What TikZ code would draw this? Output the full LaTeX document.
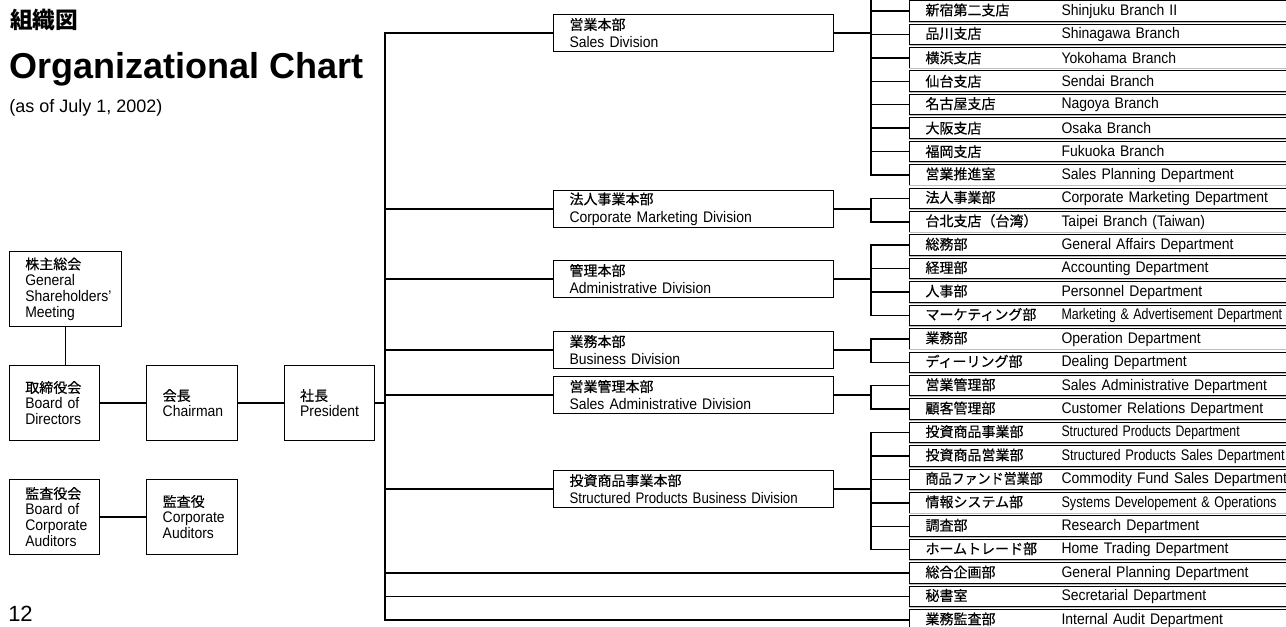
\documentclass[tikz,border=0pt]{standalone}
\usepackage{fontspec}
\usepackage{graphicx}
\setmainfont{Liberation Sans}[FakeStretch=0.91]
\newfontfamily\headfont{Liberation Sans}
\newfontfamily\jp{Noto Sans CJK JP}[FakeBold=0.5]
\newfontfamily\jphead{Noto Sans CJK JP}
\usetikzlibrary{positioning}
\usetikzlibrary{math}
\newcommand{\narrow}[2]{\scalebox{#1}[1]{#2}}
\tikzstyle{link} = [line width=1.1pt]
\tikzstyle{divbox} = [draw, line width=0.75pt, anchor=west, text width=186pt, inner xsep=12pt, inner ysep=0pt, minimum height=27.75pt, align=left, font=\fontsize{11.5}{13.5}\selectfont]
\tikzstyle{deptbox} = [draw, line width=0.75pt, anchor=west, text width=290pt, inner xsep=12pt, inner ysep=0pt, minimum height=15.4pt, align=left, font=\fontsize{11.5}{12}\selectfont]
\tikzset{orgbox/.style={draw, line width=0.75pt, text width=#1, inner xsep=12pt, inner ysep=0pt, minimum height=56.25pt, align=left, font=\fontsize{11.5}{12}\selectfont}}

\begin{document}
\begin{tikzpicture}[x=0.75pt, y=-0.75pt]

  \tikzmath{\yz = 11; \p = 23.42; \dx = 909;}

  \useasboundingbox (0,0) rectangle (1286,627);
  \fill[white] (0,0) rectangle (1286,627);
  \clip (0,0) rectangle (1286,627);

  % titles
  \node[anchor=base west, inner sep=0, font=\jphead\bfseries\fontsize{17}{17}\selectfont] (titlejp) at (10,29) {組織図};
  \node[anchor=base west, inner sep=0, font=\headfont\bfseries\fontsize{27}{30}\selectfont] (title) at (9,79) {Organizational Chart};
  \node[anchor=base west, inner sep=0, font=\headfont\fontsize{13.5}{15}\selectfont] (date) at (9,113) {(as of July 1, 2002)};
  \node[anchor=base west, inner sep=0, font=\headfont\fontsize{16.5}{18}\selectfont] (page) at (8,621) {12};

  % board and top management
  \node[orgbox=43.8pt] (directors) at (54.5,403) {{\jp\fontsize{10.5}{12}\selectfont 取締役会}\\Board of\\Directors};
  \node[orgbox=43.8pt, right=34.5pt of directors] (chairman) {{\jp\fontsize{10.5}{12}\selectfont 会長}\\Chairman};
  \node[orgbox=43.8pt, right=34.5pt of chairman] (president) {{\jp\fontsize{10.5}{12}\selectfont 社長}\\President};
  \node[orgbox=60.5pt, above=28.5pt of directors.north west, anchor=south west] (share) {{\jp\fontsize{10.5}{12}\selectfont 株主総会}\\General\\Shareholders’\\Meeting};
  \node[orgbox=43.8pt, below=28.5pt of directors] (boardaud) {{\jp\fontsize{10.5}{12}\selectfont 監査役会}\\Board of\\Corporate\\Auditors};
  \node[orgbox=43.8pt, right=34.5pt of boardaud] (auditors) {{\jp\fontsize{10.5}{12}\selectfont 監査役}\\Corporate\\Auditors};

  \draw[link] (share.south) -- (share.south |- directors.north);
  \draw[link] (directors) -- (chairman);
  \draw[link] (chairman) -- (president);
  \draw[link] (boardaud) -- (auditors);

  % departments
  \foreach \i/\ja/\en in {0/新宿第二支店/Shinjuku Branch II, 1/品川支店/Shinagawa Branch,
      2/横浜支店/Yokohama Branch, 3/仙台支店/Sendai Branch, 4/名古屋支店/Nagoya Branch,
      5/大阪支店/Osaka Branch, 6/福岡支店/Fukuoka Branch, 7/営業推進室/Sales Planning Department,
      8/法人事業部/Corporate Marketing Department, 9/台北支店（台湾）/Taipei Branch (Taiwan),
      10/総務部/General Affairs Department, 11/経理部/Accounting Department,
      12/人事部/Personnel Department,
      13/マーケティング部/{\narrow{0.89}{Marketing \& Advertisement Department}},
      14/業務部/Operation Department, 15/ディーリング部/Dealing Department,
      16/営業管理部/Sales Administrative Department, 17/顧客管理部/Customer Relations Department,
      18/投資商品事業部/{\narrow{0.88}{Structured Products Department}},
      19/投資商品営業部/{\narrow{0.92}{Structured Products Sales Department}},
      20/{\narrow{0.93}{商品ファンド営業部}}/Commodity Fund Sales Department,
      21/情報システム部/{\narrow{0.91}{Systems Developement \& Operations}},
      22/調査部/Research Department, 23/ホームトレード部/Home Trading Department,
      24/総合企画部/General Planning Department, 25/秘書室/Secretarial Department,
      26/業務監査部/Internal Audit Department} {
    \node[deptbox] (d\i) at (\dx, {\yz+\p*\i}) {\makebox[102pt][l]{\jp\fontsize{10.5}{12}\selectfont\ja}\mbox{\en}};
    \draw[gray!50, line width=0.6pt] ([yshift=1.3pt]d\i.north west) -- ([yshift=1.3pt]d\i.north east);
  }

  % divisions
  \foreach \n/\y/\ja/\en in {sales/33/営業本部/Sales Division,
      corp/209/法人事業本部/Corporate Marketing Division,
      admin/279/管理本部/Administrative Division,
      busi/350/業務本部/Business Division,
      sadm/395/営業管理本部/Sales Administrative Division,
      spbd/489/投資商品事業本部/{\narrow{0.95}{Structured Products Business Division}}} {
    \node[divbox] (\n) at (553,\y) {{\jp\fontsize{10.5}{12}\selectfont\ja}\\\en};
  }

  % trunk from the president
  \coordinate (trunk) at (385,0);
  \draw[link] (president.east) -- (president.east -| trunk);
  \draw[link] (sales.west) -- (sales.west -| trunk) -- (d26.west -| trunk) -- (d26.west);
  \foreach \n in {corp, admin, busi, sadm, spbd}
    \draw[link] (\n.west) -- (\n.west -| trunk);
  \foreach \k in {24, 25}
    \draw[link] (d\k.west) -- (d\k.west -| trunk);

  % division to department branches
  \foreach \n/\a/\b in {sales/0/7, corp/8/9, admin/10/13, busi/14/15, sadm/16/17, spbd/18/23} {
    \draw[link] (\n.east) -- ++(38,0);
    \draw[link] (d\a.west) -- ++(-38,0) |- (d\b.west);
    \foreach \k in {\a,...,\b}
      \draw[link] (d\k.west) -- ++(-38,0);
  }
  \draw[link] (d0.west) ++(-38,0) -- ++(0,-15);

\end{tikzpicture}
\end{document}
